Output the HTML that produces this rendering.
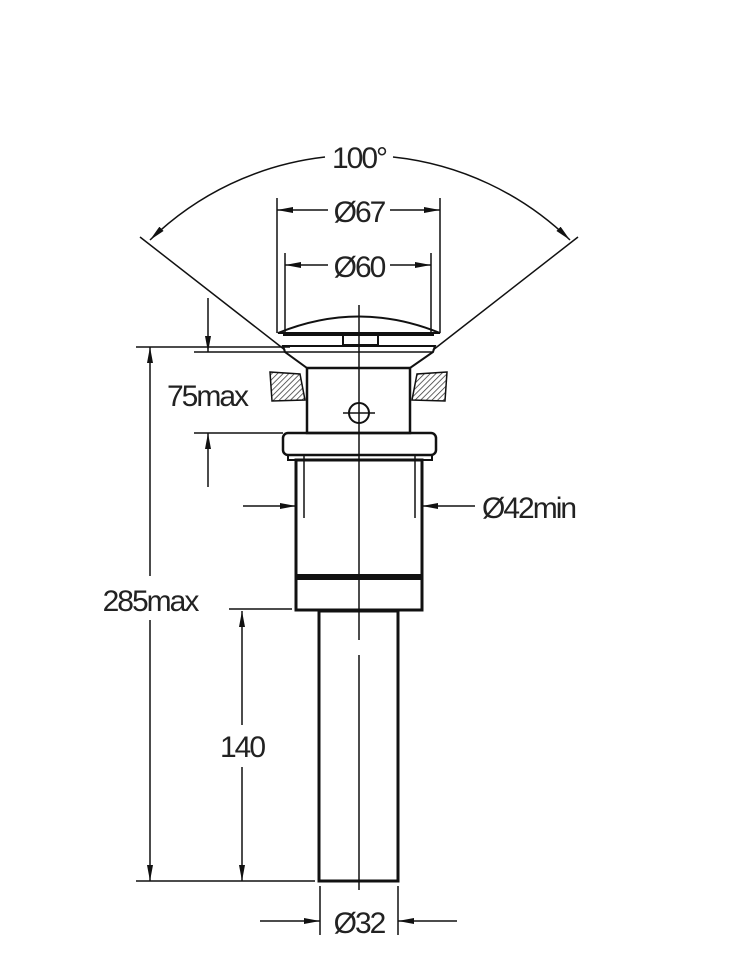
<!DOCTYPE html>
<html><head><style>html,body{margin:0;padding:0;background:#fff}svg{display:block}text{font-family:"Liberation Sans",sans-serif;font-size:30px;fill:#222;text-anchor:middle;letter-spacing:-2px}</style></head><body>
<svg width="753" height="980" viewBox="0 0 753 980" xmlns="http://www.w3.org/2000/svg">
<defs>
<marker id="a" viewBox="0 0 16 6" refX="16" refY="3" markerWidth="16" markerHeight="6" orient="auto-start-reverse" markerUnits="userSpaceOnUse"><path d="M0,0L16,3L0,6z" fill="#111"/></marker>
<pattern id="h" width="4" height="4" patternUnits="userSpaceOnUse" patternTransform="rotate(45)"><rect width="4" height="4" fill="#fff"/><line x1="0" y1="0" x2="0" y2="4" stroke="#333" stroke-width="1.5"/></pattern>
</defs>
<g stroke="#111" fill="none" stroke-width="1.5">
<path d="M150,240 A299,299 0 0 1 325,157" marker-start="url(#a)"/>
<path d="M393,157 A299,299 0 0 1 570,240" marker-end="url(#a)"/>
<line x1="140" y1="237" x2="285" y2="350"/>
<line x1="578" y1="237" x2="433" y2="350"/>
<line x1="277" y1="198" x2="277" y2="333"/><line x1="440" y1="198" x2="440" y2="333"/>
<line x1="277" y1="210" x2="328" y2="210" marker-start="url(#a)"/><line x1="390" y1="210" x2="440" y2="210" marker-end="url(#a)"/>
<line x1="285" y1="253" x2="285" y2="336"/><line x1="431" y1="253" x2="431" y2="336"/>
<line x1="285" y1="265" x2="328" y2="265" marker-start="url(#a)"/><line x1="390" y1="265" x2="431" y2="265" marker-end="url(#a)"/>
<path d="M278,333 Q359,300 440,333 Z" stroke-width="2"/>
<line x1="283" y1="335" x2="434" y2="335" stroke-width="2"/>
<rect x="343" y="335" width="35" height="10" stroke-width="2"/>
<path d="M283,346 L435,346 L433,352 L410,368 L307,368 L285,352 Z" stroke-width="2"/>
<line x1="285" y1="352" x2="433" y2="352"/>
<rect x="307" y="368" width="103" height="65" stroke-width="2.5"/>
<path d="M270,372 L300,374 L305,400 L272,401 Z" fill="url(#h)"/>
<path d="M447,372 L417,374 L412,400 L445,401 Z" fill="url(#h)"/>
<circle cx="359" cy="413" r="10" stroke-width="2"/>
<line x1="343" y1="413" x2="375" y2="413"/>
<rect x="283" y="433" width="153" height="22" rx="5" stroke-width="2.5"/>
<rect x="288" y="455" width="144" height="5" stroke-width="2"/>
<rect x="296" y="460" width="126" height="150" stroke-width="3"/>
<line x1="296" y1="577" x2="422" y2="577" stroke-width="6"/>
<line x1="304" y1="455" x2="304" y2="518"/><line x1="415" y1="455" x2="415" y2="518"/>
<rect x="319" y="611" width="79" height="270" stroke-width="3"/>
<line x1="359" y1="305" x2="359" y2="640"/>
<line x1="359" y1="655" x2="359" y2="890"/>
<line x1="243" y1="506" x2="296" y2="506" marker-end="url(#a)"/>
<line x1="475" y1="506" x2="422" y2="506" marker-end="url(#a)"/>
<line x1="194" y1="352" x2="285" y2="352"/><line x1="194" y1="433" x2="283" y2="433"/>
<line x1="208" y1="298" x2="208" y2="352" marker-end="url(#a)"/>
<line x1="208" y1="487" x2="208" y2="433" marker-end="url(#a)"/>
<line x1="136" y1="347" x2="290" y2="347"/>
<line x1="136" y1="881" x2="315" y2="881"/>
<line x1="150" y1="347" x2="150" y2="576" marker-start="url(#a)"/>
<line x1="150" y1="620" x2="150" y2="881" marker-end="url(#a)"/>
<line x1="229" y1="609" x2="292" y2="609"/>
<line x1="242" y1="611" x2="242" y2="725" marker-start="url(#a)"/>
<line x1="242" y1="767" x2="242" y2="881" marker-end="url(#a)"/>
<line x1="320" y1="886" x2="320" y2="935"/><line x1="398" y1="886" x2="398" y2="935"/>
<line x1="260" y1="921" x2="320" y2="921" marker-end="url(#a)"/>
<line x1="457" y1="921" x2="398" y2="921" marker-end="url(#a)"/>
</g>
<text x="359" y="168">100°</text>
<text x="359" y="222">Ø67</text>
<text x="359" y="277">Ø60</text>
<text x="207" y="406">75max</text>
<text x="482" y="518" style="text-anchor:start">Ø42min</text>
<text x="150" y="611">285max</text>
<text x="242" y="757">140</text>
<text x="359" y="933">Ø32</text>
</svg>
</body></html>
